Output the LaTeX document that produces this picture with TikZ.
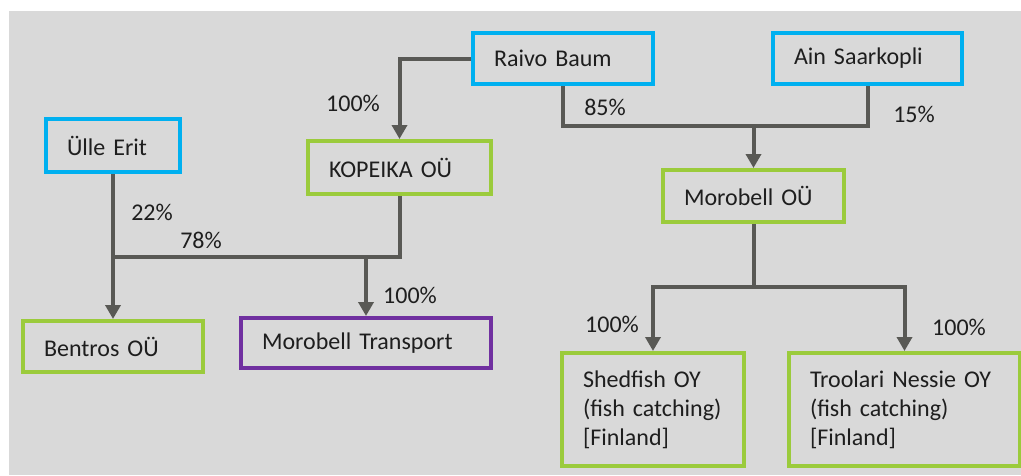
\documentclass[tikz,border=0pt]{standalone}
\usepackage{fontspec}
\setmainfont{Carlito}
\usetikzlibrary{arrows.meta}
\definecolor{panel}{HTML}{D9D9D9}
\definecolor{person}{HTML}{00B0F0}
\definecolor{company}{HTML}{9BCB3C}
\definecolor{transport}{HTML}{7030A0}
\definecolor{wire}{HTML}{595955}
\definecolor{ink}{HTML}{1E1E1E}
\tikzset{
  box/.style={draw, line width=4pt, align=left, inner xsep=21pt, inner ysep=0pt,
    text=ink, font=\fontsize{24}{29}\selectfont},
  personbox/.style={box, draw=person},
  companybox/.style={box, draw=company},
  transportbox/.style={box, draw=transport},
  wireline/.style={draw=wire, line width=4pt},
  owns/.style={wireline, -{Triangle[width=15pt,length=14pt]}},
  share/.style={text=ink, font=\fontsize{24}{29}\selectfont, inner sep=0pt}
}
\begin{document}
\begin{tikzpicture}[x=1pt,y=-1pt]
\useasboundingbox (0,0) rectangle (1021,475);
\fill[white] (0,0) rectangle (1021,475);
\fill[panel] (9,11) rectangle (1021,475);

% owners
\node[personbox, text width=138pt, minimum height=51pt] (raivo) at (563,58.5) {Raivo Baum};
\node[personbox, text width=147pt, minimum height=51pt] (ain) at (867.5,58.5) {Ain Saarkopli};
\node[personbox, text width=92pt, minimum height=53pt] (ulle) at (113,145.5) {Ülle Erit};

% companies
\node[companybox, text width=141pt, minimum height=53pt] (kopeika) at (399.5,167.5) {KOPEIKA OÜ};
\node[companybox, text width=139pt, minimum height=52pt] (morobell) at (753.5,196) {Morobell OÜ};
\node[companybox, text width=138pt, minimum height=51pt] (bentros) at (113,346.5) {Bentros OÜ};
\node[transportbox, text width=208pt, minimum height=50pt] (mtrans) at (366,343) {Morobell Transport};
\node[companybox, text width=140pt, minimum height=113pt] (shedfish) at (653,409.5) {Shedfish OY\\(fish catching)\\{[Finland]}};
\node[companybox, text width=189pt, minimum height=113pt] (troolari) at (904.5,409.5) {Troolari Nessie OY\\(fish catching)\\{[Finland]}};

% junction points
\coordinate (topjoin) at (753.5,126);
\coordinate (leftjoin) at (113,257);
\coordinate (transjoin) at (366,257);
\coordinate (fishjoin) at (753.5,287);

% ownership lines
\draw[owns] (raivo.west) -| (kopeika.north);
\draw[wireline] (raivo.south) |- (topjoin) -| (ain.south);
\draw[owns] (topjoin) -- (morobell.north);
\draw[wireline] (ulle.south) -- (leftjoin);
\draw[wireline] (kopeika.south) |- (leftjoin);
\draw[owns] (leftjoin) -- (bentros.north);
\draw[owns] (transjoin) -- (mtrans.north);
\draw[wireline] (morobell.south) -- (fishjoin);
\draw[owns] (fishjoin) -| (shedfish.north);
\draw[owns] (fishjoin) -| (troolari.north);

% shares
\node[share] (s1) at (353,103) {100\%};
\node[share] (s2) at (605,107) {85\%};
\node[share] (s3) at (914,114) {15\%};
\node[share] (s4) at (152,212) {22\%};
\node[share] (s5) at (201,240) {78\%};
\node[share] (s6) at (410,295) {100\%};
\node[share] (s7) at (612,324) {100\%};
\node[share] (s8) at (959,327) {100\%};
\end{tikzpicture}
\end{document}
